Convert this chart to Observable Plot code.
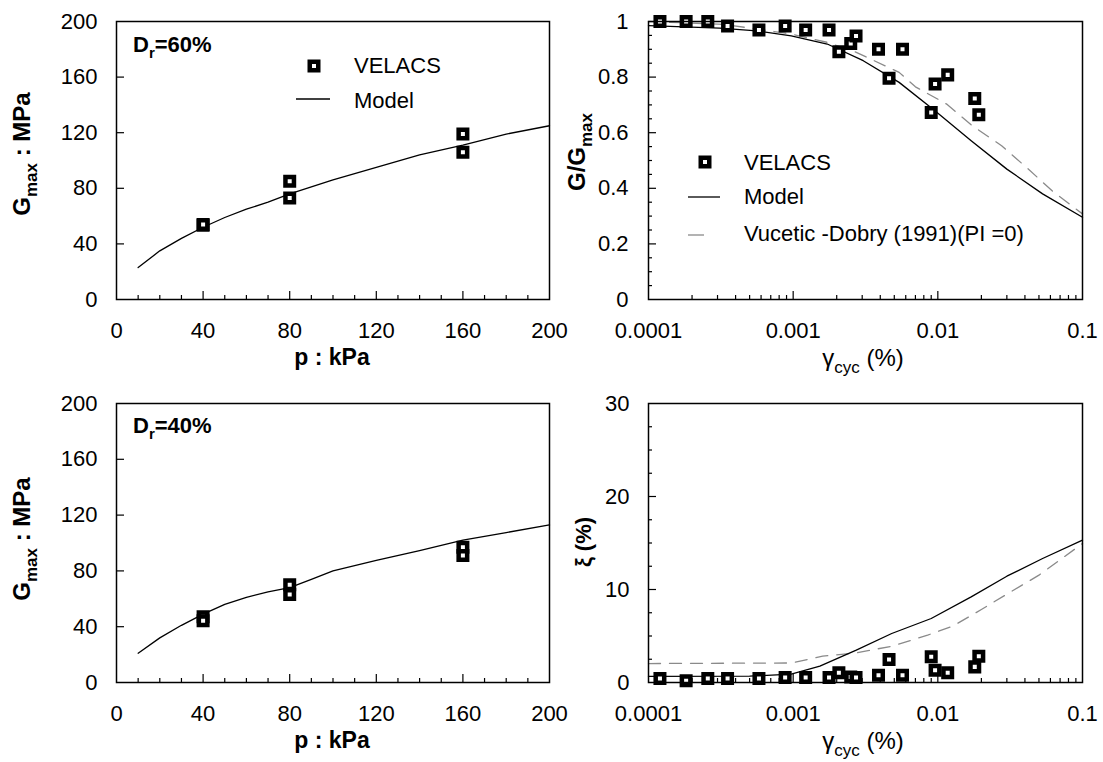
<!DOCTYPE html>
<html><head><meta charset="utf-8">
<script src="https://cdn.jsdelivr.net/npm/d3@7"></script>
<script src="https://cdn.jsdelivr.net/npm/@observablehq/plot@0.6"></script>
<style>
body{margin:0;background:#fff;}
#chart{position:relative;width:1103px;height:762px;background:#fff;}
</style></head><body><div id="chart"></div>
<script>
// ---------- data ----------
// Panel (a): Dr = 60 %
const p60Velacs = [40, 40, 80, 80, 160, 160];
const g60Velacs = [53.5, 54, 85, 73, 119, 106];
const p60Model = [10, 20, 30, 40, 50, 60, 70, 80, 90, 100, 120, 140, 160, 180, 200];
const g60Model = [23, 35, 44, 52, 59, 65, 70, 76, 81, 86, 95, 104, 111, 119, 125];
// Panel (c): Dr = 40 %
const p40Velacs = [40, 40, 80, 80, 160, 160];
const g40Velacs = [47.2, 44.3, 70, 63, 97, 91];
const p40Model = [10, 20, 30, 40, 50, 60, 70, 80, 90, 100, 120, 140, 160, 180, 200];
const g40Model = [21, 32, 41, 49, 56, 61, 65, 68, 74, 80, 87.5, 94.5, 102, 107.5, 113];
// Panels (b),(d): VELACS test data (same strains)
const gammaVelacs = [1.2e-4, 1.82e-4, 2.57e-4, 3.52e-4, 5.8e-4, 8.8e-4, 1.22e-3, 1.77e-3, 2.07e-3, 2.5e-3, 2.72e-3, 3.89e-3, 4.6e-3, 5.7e-3, 9.0e-3, 9.57e-3, 1.17e-2, 1.8e-2, 1.92e-2];
const ggmaxVelacs = [1.0, 1.0, 1.0, 0.984, 0.969, 0.984, 0.969, 0.969, 0.891, 0.921, 0.948, 0.90, 0.796, 0.90, 0.673, 0.775, 0.808, 0.723, 0.665];
const dampVelacs = [0.43, 0.18, 0.43, 0.43, 0.43, 0.54, 0.54, 0.54, 1.04, 0.6, 0.54, 0.79, 2.47, 0.79, 2.76, 1.33, 1.04, 1.68, 2.83];
// Model G/Gmax
const gammaModelG = [1e-4, 3.1e-4, 5.6e-4, 9.7e-4, 1.72e-3, 3.05e-3, 5.4e-3, 9.55e-3, 1.7e-2, 3.0e-2, 5.3e-2, 0.1];
const ggmaxModel = [0.985, 0.976, 0.966, 0.948, 0.919, 0.859, 0.781, 0.679, 0.571, 0.469, 0.38, 0.296];
// Vucetic-Dobry (1991) PI=0 G/Gmax
const gammaVDG = [1e-4, 3.3e-4, 9.7e-4, 1.72e-3, 2.73e-3, 5.4e-3, 7e-3, 1.15e-2, 1.7e-2, 2.76e-2, 4.1e-2, 6.2e-2, 0.1];
const ggmaxVD = [1.0, 0.99, 0.955, 0.925, 0.889, 0.817, 0.765, 0.703, 0.628, 0.553, 0.475, 0.39, 0.308];
// Model damping
const gammaModelD = [1e-4, 5e-4, 9.7e-4, 1.53e-3, 2.73e-3, 4.8e-3, 9e-3, 1.7e-2, 3e-2, 5.3e-2, 0.1];
const dampModel = [0.65, 0.68, 0.9, 1.76, 3.48, 5.27, 6.88, 9.21, 11.43, 13.33, 15.3];
// Vucetic-Dobry damping
const gammaVDD = [1e-4, 9.7e-4, 1.6e-3, 2.73e-3, 4.8e-3, 8.5e-3, 1.27e-2, 2.0e-2, 3e-2, 5e-2, 0.1];
const dampVD = [2.04, 2.1, 2.83, 3.19, 3.9, 5.09, 6.06, 7.85, 9.5, 11.54, 14.95];

// ticks
const pTicks = [0, 40, 80, 120, 160, 200];
const pMinor = [10, 20, 30, 50, 60, 70, 90, 100, 110, 130, 140, 150, 170, 180, 190];
const gmaxTicks = [0, 40, 80, 120, 160, 200];
const gammaTicks = [0.0001, 0.001, 0.01, 0.1];
const ggTicks = [0, 0.2, 0.4, 0.6, 0.8, 1];
const ggMinor = [0.05, 0.1, 0.15, 0.25, 0.3, 0.35, 0.45, 0.5, 0.55, 0.65, 0.7, 0.75, 0.85, 0.9, 0.95];
const dampTicks = [0, 10, 20, 30];
const dampMinor = [2.5, 5, 7.5, 12.5, 15, 17.5, 22.5, 25, 27.5];
const gammaMinor = [];
for (const d of [1e-4, 1e-3, 1e-2]) for (let k = 2; k <= 9; k++) gammaMinor.push(d * k);

const zipXY = (xs, ys) => xs.map((x, i) => ({x, y: ys[i]}));

const FONT = "Liberation Sans, Arial, sans-serif";
const chart = document.getElementById("chart");

function makePlot(cfg) {
  const pw = cfg.width - cfg.ml - cfg.mr, ph = cfg.height - cfg.mt - cfg.mb;
  const inner = (arr) => arr.filter(v => v > cfg.xDomain[0] && v < cfg.xDomain[1]);
  const innerY = (arr) => arr.filter(v => v > cfg.yDomain[0] && v < cfg.yDomain[1]);
  const svg = Plot.plot({
    width: cfg.width, height: cfg.height,
    marginLeft: cfg.ml, marginRight: cfg.mr, marginTop: cfg.mt, marginBottom: cfg.mb,
    style: {background: "transparent", overflow: "visible", fontFamily: FONT, fontSize: "22px", color: "#000"},
    x: {type: cfg.xType || "linear", domain: cfg.xDomain},
    y: {type: "linear", domain: cfg.yDomain},
    marks: [
      Plot.axisX({ticks: cfg.xTicks, tickSize: 0, tickPadding: 23, tickFormat: d => String(d), label: null}),
      Plot.axisY({ticks: cfg.yTicks, tickSize: 0, tickPadding: cfg.yPad || 19, tickFormat: d => String(d), label: null}),
      Plot.tickX(inner(cfg.xTicks), {x: d => d, insetTop: ph - 8, stroke: "#000", strokeWidth: 1.2}),
      Plot.tickX(cfg.xMinor, {x: d => d, insetTop: ph - 4, stroke: "#000", strokeWidth: 1.2}),
      Plot.tickY(innerY(cfg.yTicks), {y: d => d, insetRight: pw - 8, stroke: "#000", strokeWidth: 1.2}),
      Plot.tickY(cfg.yMinor, {y: d => d, insetRight: pw - 4, stroke: "#000", strokeWidth: 1.2}),
      ...cfg.marks,
      Plot.frame({stroke: "#000", strokeWidth: 1.5})
    ]
  });
  svg.style.position = "absolute";
  svg.style.left = cfg.left + "px";
  svg.style.top = cfg.top + "px";
  chart.appendChild(svg);
  return svg;
}

function label(svg, x, y, parts, opt = {}) {
  const size = opt.size || 22, sub = opt.sub || Math.round(size * 0.68);
  const t = d3.select(svg).append("text")
    .attr("transform", `translate(${x},${y})` + (opt.rotate ? ` rotate(${opt.rotate})` : ""))
    .attr("text-anchor", opt.anchor || "start")
    .attr("font-family", FONT)
    .attr("font-size", size)
    .attr("font-weight", opt.bold ? "bold" : "normal")
    .attr("fill", "#000")
    .style("white-space", "pre");
  let shifted = false;
  const sh = opt.shift || size * 0.28;
  for (const p of parts) {
    const isSub = Array.isArray(p);
    const ts = t.append("tspan").text(isSub ? p[0] : p);
    if (isSub) { ts.attr("font-size", sub); if (!shifted) ts.attr("dy", sh); shifted = true; }
    else { if (shifted) ts.attr("dy", -sh); shifted = false; }
  }
}
function legendSquare(svg, cx, cy) {
  d3.select(svg).append("rect").attr("x", cx - 4.25).attr("y", cy - 4.25).attr("width", 8.5).attr("height", 8.5)
    .attr("fill", "white").attr("stroke", "black").attr("stroke-width", 4.5);
}
function legendLine(svg, x1, x2, y, stroke, dash) {
  const l = d3.select(svg).append("line").attr("x1", x1).attr("x2", x2).attr("y1", y).attr("y2", y)
    .attr("stroke", stroke).attr("stroke-width", 1.3);
  if (dash) l.attr("stroke-dasharray", dash);
}

const dotOpts = {x: "x", y: "y", symbol: "square", r: 4.8, fill: "white", stroke: "black", strokeWidth: 4.5};
const solidOpts = {x: "x", y: "y", stroke: "black", strokeWidth: 1.3};
const dashOpts = {x: "x", y: "y", stroke: "#8a8a8a", strokeWidth: 1.3, strokeDasharray: "12,9"};

// Panel a (top-left)
const svgA = makePlot({
  left: 0, top: 0, width: 552, height: 382, ml: 116, mr: 3, mt: 21, mb: 83,
  xDomain: [0, 200], yDomain: [0, 200], xTicks: pTicks, xMinor: pMinor, yTicks: gmaxTicks, yMinor: [],
  marks: [Plot.line(zipXY(p60Model, g60Model), solidOpts), Plot.dot(zipXY(p60Velacs, g60Velacs), dotOpts)]
});
label(svgA, 133, 52, ["D", ["r"], "=60%"], {bold: true, size: 22, sub: 15});
legendSquare(svgA, 314, 66);
label(svgA, 354, 73, ["VELACS"]);
legendLine(svgA, 296, 330, 99, "black");
label(svgA, 354, 108, ["Model"]);
label(svgA, 332, 365, ["p : kPa"], {bold: true, size: 23, anchor: "middle"});
label(svgA, 30, 154, ["G", ["max"], " : MPa"], {bold: true, size: 24, sub: 17, rotate: -90, anchor: "middle"});

// Panel b (top-right)
const svgB = makePlot({
  left: 551, top: 0, width: 552, height: 382, ml: 97, mr: 21, mt: 21, mb: 83, xType: "log",
  xDomain: [1e-4, 0.1], yDomain: [0, 1], xTicks: gammaTicks, xMinor: gammaMinor, yTicks: ggTicks, yMinor: ggMinor, yPad: 20,
  marks: [
    Plot.line(zipXY(gammaVDG, ggmaxVD), dashOpts),
    Plot.line(zipXY(gammaModelG, ggmaxModel), solidOpts),
    Plot.dot(zipXY(gammaVelacs, ggmaxVelacs), dotOpts)
  ]
});
legendSquare(svgB, 154, 162);
label(svgB, 193, 170, ["VELACS"]);
legendLine(svgB, 137, 169, 197, "black");
label(svgB, 193, 204, ["Model"]);
legendLine(svgB, 137, 153, 235, "#8a8a8a");
label(svgB, 193, 241, ["Vucetic -Dobry (1991)(PI =0)"]);
label(svgB, 312, 366, ["γ", ["cyc"], " (%)"], {size: 24, sub: 17, anchor: "middle"});
label(svgB, 34, 152, ["G/G", ["max"]], {bold: true, size: 24, sub: 17, rotate: -90, anchor: "middle"});

// Panel c (bottom-left)
const svgC = makePlot({
  left: 0, top: 382, width: 552, height: 380, ml: 116, mr: 3, mt: 21, mb: 80,
  xDomain: [0, 200], yDomain: [0, 200], xTicks: pTicks, xMinor: pMinor, yTicks: gmaxTicks, yMinor: [],
  marks: [Plot.line(zipXY(p40Model, g40Model), solidOpts), Plot.dot(zipXY(p40Velacs, g40Velacs), dotOpts)]
});
label(svgC, 133, 51, ["D", ["r"], "=40%"], {bold: true, size: 22, sub: 15});
label(svgC, 332, 366, ["p : kPa"], {bold: true, size: 23, anchor: "middle"});
label(svgC, 30, 157, ["G", ["max"], " : MPa"], {bold: true, size: 24, sub: 17, rotate: -90, anchor: "middle"});

// Panel d (bottom-right)
const svgD = makePlot({
  left: 551, top: 382, width: 552, height: 380, ml: 97, mr: 21, mt: 21, mb: 80, xType: "log",
  xDomain: [1e-4, 0.1], yDomain: [0, 30], xTicks: gammaTicks, xMinor: gammaMinor, yTicks: dampTicks, yMinor: dampMinor,
  marks: [
    Plot.line(zipXY(gammaVDD, dampVD), dashOpts),
    Plot.line(zipXY(gammaModelD, dampModel), solidOpts),
    Plot.dot(zipXY(gammaVelacs, dampVelacs), dotOpts)
  ]
});
label(svgD, 312, 367, ["γ", ["cyc"], " (%)"], {size: 24, sub: 17, anchor: "middle"});
label(svgD, 40, 160, ["ξ (%)"], {bold: true, size: 22, rotate: -90, anchor: "middle"});
</script>
</body></html>
